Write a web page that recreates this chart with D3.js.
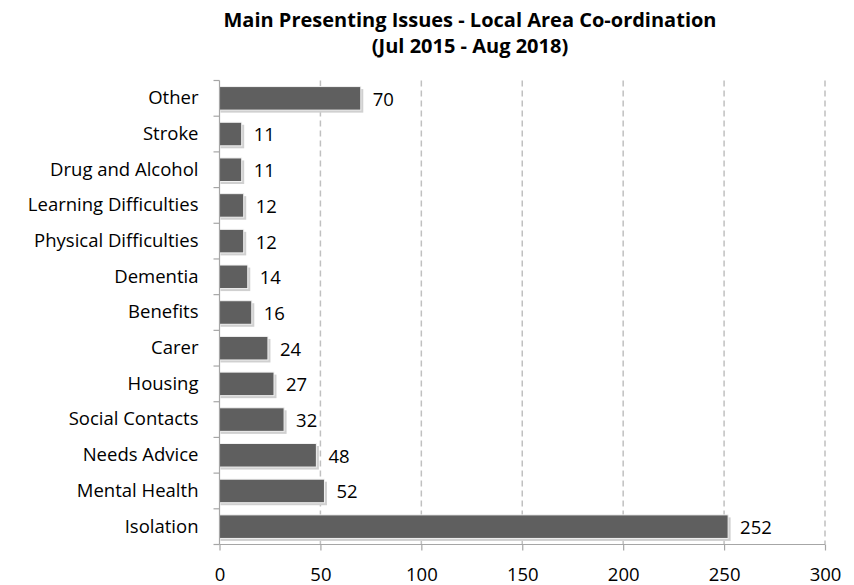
<!DOCTYPE html>
<html><head><meta charset="utf-8">
<script src="https://cdn.jsdelivr.net/npm/d3@7"></script>
<style>body{margin:0;background:#fff}svg{display:block}</style>
</head><body>
<svg id="c" width="854" height="585"></svg>
<script>
const categories = ["Other","Stroke","Drug and Alcohol","Learning Difficulties","Physical Difficulties","Dementia","Benefits","Carer","Housing","Social Contacts","Needs Advice","Mental Health","Isolation"];
const values = [70,11,11,12,12,14,16,24,27,32,48,52,252];
const xTicks = [0,50,100,150,200,250,300];
const titleLines = ["Main Presenting Issues - Local Area Co-ordination","(Jul 2015 - Aug 2018)"];

const svg = d3.select("#c");
const font = "'Open Sans', sans-serif";
const m = {l:219.5, r:825, t:80.5, b:544.5};
const x = d3.scaleLinear().domain([0,300]).range([m.l,m.r]);
const y = d3.scaleBand().domain(categories).range([m.t,m.b]).paddingInner(0.34).paddingOuter(0.17);

// title
svg.append("g").selectAll("text").data(titleLines).join("text")
  .attr("x",470).attr("y",(d,i)=>27+i*25.5).attr("text-anchor","middle")
  .attr("font-family",font).attr("font-weight","bold").attr("font-size",20).attr("fill","#000").text(d=>d);

// grid
svg.append("g").selectAll("line").data(xTicks.filter(d=>d>0)).join("line")
  .attr("x1",d=>x(d)).attr("x2",d=>x(d)).attr("y1",m.t).attr("y2",m.b)
  .attr("stroke","#c0c0c0").attr("stroke-width",1.5).attr("stroke-dasharray","6,4");

// bars shadow
const bars = svg.append("g");
bars.selectAll("rect.s").data(values).join("rect").attr("class","s")
  .attr("x",x(0)+1).attr("y",(d,i)=>y(categories[i])+2.5)
  .attr("width",d=>x(d)-x(0)+1.5).attr("height",y.bandwidth())
  .attr("fill","#d0d0d0");
bars.selectAll("rect.b").data(values).join("rect").attr("class","b")
  .attr("x",x(0)).attr("y",(d,i)=>y(categories[i]))
  .attr("width",d=>x(d)-x(0)).attr("height",y.bandwidth())
  .attr("fill","#5f5f5f").attr("stroke","#f2f2f2").attr("stroke-width",1);

// value labels
svg.append("g").selectAll("text").data(values).join("text")
  .attr("x",d=>x(d)+12).attr("y",(d,i)=>y(categories[i])+y.bandwidth()/2+2.5)
  .attr("dominant-baseline","middle")
  .attr("font-family",font).attr("font-size",18.5).attr("fill","#000").text(d=>d);

// axes
const xa = svg.append("g").attr("transform",`translate(0,${m.b})`)
  .call(d3.axisBottom(x).tickValues(xTicks).tickSize(6).tickPadding(17));
const ya = svg.append("g").attr("transform",`translate(${m.l},0)`)
  .call(d3.axisLeft(y).tickSize(0).tickPadding(21));
svg.append("g").selectAll("line").data(d3.range(categories.length+1)).join("line")
  .attr("x1",m.l-6).attr("x2",m.l).attr("y1",i=>m.t+i*(m.b-m.t)/categories.length).attr("y2",i=>m.t+i*(m.b-m.t)/categories.length)
  .attr("stroke","#a6a6a6").attr("stroke-width",1.2);
[xa,ya].forEach(g=>{
  g.select(".domain").attr("stroke","#a6a6a6").attr("stroke-width",1.2);
  g.selectAll(".tick line").attr("stroke","#a6a6a6").attr("stroke-width",1.2);
  g.selectAll("text").attr("font-family",font).attr("fill","#000");
});
xa.select(".domain").attr("d",`M${m.l},0H${m.r}`);
ya.select(".domain").attr("d",`M0,${m.t}V${m.b}`);
xa.selectAll("text").attr("font-size",18.5);
ya.selectAll("text").attr("font-size",18.5);
</script>
</body></html>
